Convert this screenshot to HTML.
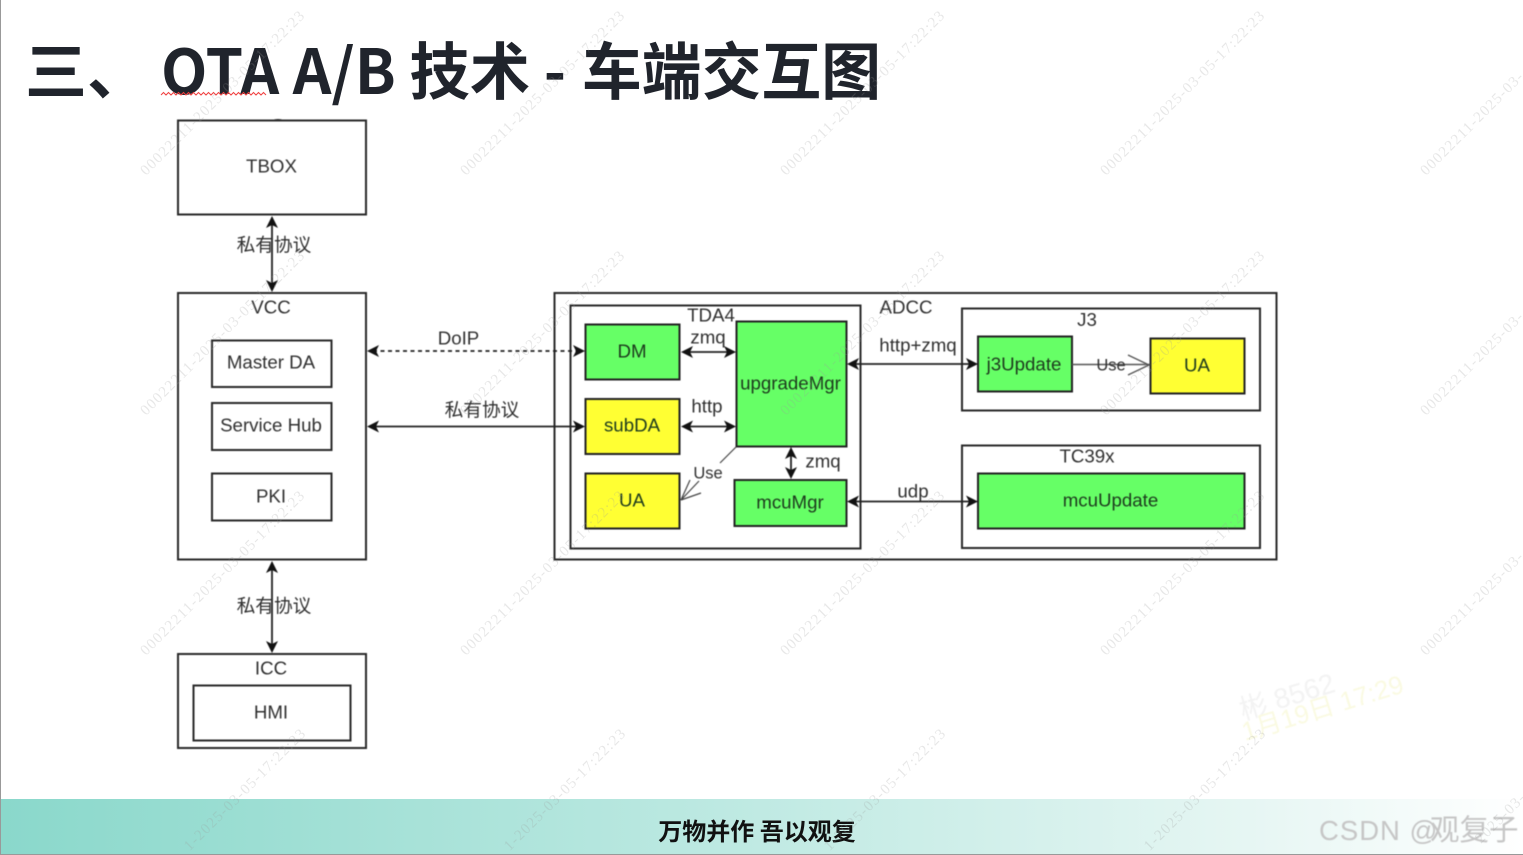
<!DOCTYPE html>
<html lang="zh">
<head>
<meta charset="utf-8">
<style>
html,body{margin:0;padding:0;background:#fff;width:1523px;height:855px;overflow:hidden}
svg{display:block;overflow:hidden}
.b{fill:none;stroke:#2a2a2a;stroke-width:2}
.g{fill:#66ff66;stroke:#222;stroke-width:2}
.y{fill:#ffff33;stroke:#222;stroke-width:2}
.l{fill:none;stroke:#222;stroke-width:1.8}
.t{font-family:"Liberation Sans","Noto Sans CJK SC",sans-serif;font-size:18.7px;fill:#303030;text-anchor:middle;transform:translateY(-.7px)}
.d{fill:#1d3a1d}
.h{fill:#111}
.w{font-family:"Liberation Serif",serif;font-size:15px;letter-spacing:1.2px;fill:#9a9a9a;fill-opacity:.24}
.e{text-anchor:end}
.soft{filter:blur(.4px)}
</style>
</head>
<body>
<svg width="1523" height="855" viewBox="0 0 1523 855" xmlns="http://www.w3.org/2000/svg">
<defs>
<linearGradient id="bar" x1="0" x2="1" y1="0" y2="0">
<stop offset="0" stop-color="#8ad8cb"/>
<stop offset="0.5" stop-color="#c0eae3"/>
<stop offset="0.82" stop-color="#e6f6f3"/>
<stop offset="1" stop-color="#ffffff"/>
</linearGradient>
</defs>
<rect width="1523" height="855" fill="#fff"/>
<rect x="0" y="0" width="1" height="855" fill="#999"/>
<rect x="1" y="799" width="1522" height="55" fill="url(#bar)"/>
<rect x="0" y="854" width="1523" height="1" fill="#999"/>

<!-- faint meeting stamp -->
<g font-family="'Liberation Sans','Noto Sans CJK SC',sans-serif" class="soft">
<text transform="translate(1243 720) rotate(-17)" fill="#f3f3f3" font-size="28">彬 8562</text>
<text transform="translate(1245 741) rotate(-17)" fill="#fafae2" font-size="26">1月19日 17:29</text>
</g>

<!-- title -->
<g font-family="'Noto Sans CJK SC','Liberation Sans',sans-serif" font-weight="700" font-size="62" fill="#20242c">
<text x="25" y="94">三、</text>
<text x="161" y="94" textLength="405" lengthAdjust="spacingAndGlyphs">OTA A/B 技术 -</text>
<text x="582" y="94" textLength="299" lengthAdjust="spacingAndGlyphs">车端交互图</text>
</g>
<path d="M161 95l2.500-2.500 2.500 2.500 2.500-2.500 2.500 2.500 2.500-2.500 2.500 2.500 2.500-2.500 2.500 2.500 2.500-2.500 2.500 2.500 2.500-2.500 2.500 2.500 2.500-2.500 2.500 2.500 2.500-2.500 2.500 2.500 2.500-2.500 2.500 2.500 2.500-2.500 2.500 2.500 2.500-2.500 2.500 2.500 2.500-2.500 2.500 2.500 2.500-2.500 2.500 2.500 2.500-2.500 2.500 2.500 2.500-2.500 2.500 2.500 2.500-2.500 2.500 2.500 2.500-2.500 2.500 2.500 2.500-2.500 2.500 2.500 2.500-2.500 2.500 2.500 2.500-2.500 2.500 2.500 2.500-2.500 2.500 2.500" fill="none" stroke="#f04040" stroke-width="1"/>

<g class="soft">
<!-- left column -->
<path d="M272 120q6-2 12 0z" fill="#222"/>
<rect class="b" x="178" y="120.500" width="188" height="94"/>
<text class="t" x="271.500" y="173">TBOX</text>
<rect class="b" x="178" y="293" width="188" height="266.500"/>
<text class="t" x="271" y="314">VCC</text>
<rect class="b" x="212" y="340.500" width="119.500" height="46.500"/>
<text class="t" x="271" y="369">Master DA</text>
<rect class="b" x="212" y="403" width="119.500" height="47"/>
<text class="t" x="271" y="432">Service Hub</text>
<rect class="b" x="212" y="473.500" width="119.500" height="47"/>
<text class="t" x="271" y="503">PKI</text>
<rect class="b" x="178" y="654" width="188" height="94"/>
<text class="t" x="271" y="675">ICC</text>
<rect class="b" x="193.500" y="685.500" width="157" height="55"/>
<text class="t" x="271" y="719">HMI</text>

<!-- vertical arrows -->
<path class="l" d="M272 222V286"/>
<path class="h" d="M272 216l6 12-6-3-6 3zM272 292l6-12-6 3-6-3z"/>
<text class="t" x="274" y="252">私有协议</text>
<path class="l" d="M272 567V647"/>
<path class="h" d="M272 561l6 12-6-3-6 3zM272 653l6-12-6 3-6-3z"/>
<text class="t" x="274" y="613">私有协议</text>

<!-- ADCC -->
<rect class="b" x="554.500" y="293" width="722" height="266.500"/>
<text class="t" x="906" y="314">ADCC</text>
<rect class="b" x="570.500" y="305.500" width="290" height="243"/>
<text class="t" x="711" y="322">TDA4</text>

<rect class="g" x="585.500" y="324.500" width="94" height="55"/>
<text class="t d" x="632" y="358">DM</text>
<rect class="y" x="585.500" y="399" width="94" height="55"/>
<text class="t d" x="632" y="432">subDA</text>
<rect class="y" x="585.500" y="473.500" width="94" height="55"/>
<text class="t d" x="632" y="507">UA</text>
<rect class="g" x="736.500" y="321.500" width="110" height="125"/>
<text class="t d" x="790.500" y="390">upgradeMgr</text>
<rect class="g" x="734.500" y="480" width="112" height="46"/>
<text class="t d" x="790" y="509">mcuMgr</text>

<text class="t" x="708" y="344">zmq</text>
<path class="l" d="M686 352H730"/>
<path class="h" d="M681 352l12-6-3 6 3 6zM736 352l-12-6 3 6-3 6z"/>
<text class="t" x="707" y="413">http</text>
<path class="l" d="M686 426.500H730"/>
<path class="h" d="M681 426.500l12-6-3 6 3 6zM736 426.500l-12-6 3 6-3 6z"/>
<path class="l" d="M791 452V474" stroke-width="2"/>
<path class="h" d="M791 447l6 12-6-3-6 3zM791 479l6-12-6 3-6-3z"/>
<text class="t" x="823" y="468">zmq</text>
<path d="M736 447L720 463M699 481L681 500L701 493M681 500L690 480" fill="none" stroke="#444" stroke-width="1.200"/>
<text class="t" x="708" y="479" style="font-size:16.5px">Use</text>

<!-- VCC links -->
<text class="t" x="458.500" y="345">DoIP</text>
<path class="l" d="M373 351H579" stroke-dasharray="4 3.500" stroke="#444"/>
<path class="h" d="M367 351l12-6-3 6 3 6zM585 351l-12-6 3 6-3 6z"/>
<text class="t" x="482" y="417">私有协议</text>
<path class="l" d="M373 426.500H579"/>
<path class="h" d="M367 426.500l12-6-3 6 3 6zM585 426.500l-12-6 3 6-3 6z"/>

<!-- J3 -->
<rect class="b" x="962" y="308.500" width="298" height="102"/>
<text class="t" x="1087" y="326.500">J3</text>
<rect class="g" x="978" y="336.500" width="94" height="55"/>
<text class="t d" x="1024" y="371">j3Update</text>
<rect class="y" x="1150.500" y="338.500" width="94" height="55"/>
<text class="t d" x="1197" y="372">UA</text>
<text class="t" x="918" y="352">http+zmq</text>
<path class="l" d="M853 364H972" stroke="#444"/>
<path class="h" d="M847 364l12-6-3 6 3 6zM978 364l-12-6 3 6-3 6z"/>
<path d="M1072 364.500H1150M1128 355L1149 365L1128 375" fill="none" stroke="#555" stroke-width="1.400"/>
<text class="t" x="1111" y="371" style="font-size:16.5px">Use</text>

<!-- TC39x -->
<rect class="b" x="962" y="445.500" width="298" height="102.500" stroke="#555"/>
<text class="t" x="1087" y="463">TC39x</text>
<rect class="g" x="978" y="473.500" width="266.500" height="55"/>
<text class="t d" x="1110.500" y="507">mcuUpdate</text>
<text class="t" x="913" y="498">udp</text>
<path class="l" d="M853 501.500H972" stroke="#444"/>
<path class="h" d="M847 501.500l12-6-3 6 3 6zM978 501.500l-12-6 3 6-3 6z"/>
</g>

<!-- footer -->
<text x="757" y="840" text-anchor="middle" font-family="'Noto Sans CJK SC','Liberation Sans',sans-serif" font-weight="700" font-size="24" fill="#111">万物并作 吾以观复</text>
<text x="1319" y="840" font-family="'Liberation Sans','Noto Sans CJK SC',sans-serif" font-size="27.500" fill="#c6c6c6" class="soft"><tspan letter-spacing="1">CSDN @</tspan><tspan x="1430" font-size="29.500">观复子</tspan></text>

<!-- watermarks -->
<g class="w">
<text transform="translate(146 176) rotate(-45)">00022211-2025-03-05-17:22:23</text>
<text transform="translate(466 176) rotate(-45)">00022211-2025-03-05-17:22:23</text>
<text transform="translate(786 176) rotate(-45)">00022211-2025-03-05-17:22:23</text>
<text transform="translate(1106 176) rotate(-45)">00022211-2025-03-05-17:22:23</text>
<text transform="translate(1426 176) rotate(-45)">00022211-2025-03-</text>
<text transform="translate(146 416) rotate(-45)">00022211-2025-03-05-17:22:23</text>
<text transform="translate(466 416) rotate(-45)">00022211-2025-03-05-17:22:23</text>
<text transform="translate(786 416) rotate(-45)">00022211-2025-03-05-17:22:23</text>
<text transform="translate(1106 416) rotate(-45)">00022211-2025-03-05-17:22:23</text>
<text transform="translate(1426 416) rotate(-45)">00022211-2025-03-</text>
<text transform="translate(146 656) rotate(-45)">00022211-2025-03-05-17:22:23</text>
<text transform="translate(466 656) rotate(-45)">00022211-2025-03-05-17:22:23</text>
<text transform="translate(786 656) rotate(-45)">00022211-2025-03-05-17:22:23</text>
<text transform="translate(1106 656) rotate(-45)">00022211-2025-03-05-17:22:23</text>
<text transform="translate(1426 656) rotate(-45)">00022211-2025-03-</text>
<text class="e" transform="translate(307 734) rotate(-45)">1-2025-03-05-17:22:23</text>
<text class="e" transform="translate(627 734) rotate(-45)">1-2025-03-05-17:22:23</text>
<text class="e" transform="translate(947 734) rotate(-45)">1-2025-03-05-17:22:23</text>
<text class="e" transform="translate(1267 734) rotate(-45)">1-2025-03-05-17:22:23</text>
<text transform="translate(1481 844) rotate(-45)">2025-03-</text>
</g>
</svg>
</body>
</html>
